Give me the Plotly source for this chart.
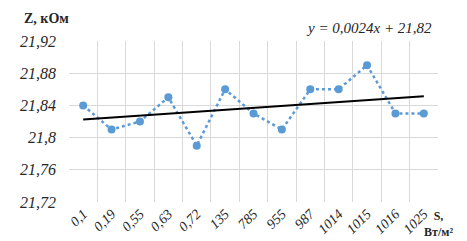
import numpy as np
import plotly.graph_objects as go

categories = ["0,1", "0,19", "0,55", "0,63", "0,72", "135", "785", "955", "987", "1014", "1015", "1016", "1025"]
z_values = [21.84, 21.81, 21.82, 21.85, 21.79, 21.86, 21.83, 21.81, 21.86, 21.86, 21.89, 21.83, 21.83]
y_ticks = [21.72, 21.76, 21.80, 21.84, 21.88, 21.92]
y_tick_labels = ["21,72", "21,76", "21,8", "21,84", "21,88", "21,92"]

idx = np.arange(1, len(z_values) + 1)
slope, intercept = np.polyfit(idx, z_values, 1)
trend = slope * idx + intercept

FAM = "Liberation Serif, Times New Roman, serif"

fig = go.Figure()
fig.add_trace(go.Scatter(
    x=categories, y=z_values, mode="lines+markers",
    line=dict(color="#5B9BD5", width=2.5, dash="dot"),
    marker=dict(color="#5B9BD5", size=8),
    showlegend=False,
))
fig.add_trace(go.Scatter(
    x=categories, y=trend, mode="lines",
    line=dict(color="#000000", width=2),
    showlegend=False,
))

fig.update_layout(
    width=467, height=241,
    margin=dict(l=52, r=37, t=33, b=43),
    paper_bgcolor="white", plot_bgcolor="white",
    font=dict(family=FAM, color="#262626"),
    xaxis=dict(
        type="category", tickson="boundaries", showgrid=True,
        gridcolor="#D9D9D9", gridwidth=1, tickangle=-45,
        tickvals=categories, ticktext=[f"<i>{c}</i>" for c in categories],
        tickfont=dict(family=FAM, size=14, color="#262626"),
        ticks="", showline=False, zeroline=False,
        range=[-0.5, 12.5],
    ),
    yaxis=dict(
        range=[21.72, 21.92], tickvals=y_ticks,
        ticktext=[f"<i>{t}</i>" for t in y_tick_labels],
        showgrid=True, gridcolor="#D9D9D9", gridwidth=1,
        tickfont=dict(family=FAM, size=16, color="#262626"),
        ticks="", showline=False, zeroline=False, ticklabelstandoff=12,
    ),
    annotations=[
        dict(text="<b>Z, кОм</b>", xref="paper", yref="paper", x=-0.127, y=1.14,
             xanchor="left", yanchor="middle", showarrow=False,
             font=dict(family=FAM, size=14, color="#262626")),
        dict(text="<i>y = 0,0024x + 21,82</i>", xref="paper", yref="paper", x=0.99, y=1.08,
             xanchor="right", yanchor="middle", showarrow=False,
             font=dict(family=FAM, size=15, color="#262626")),
        dict(text="<b>S,<br>Вт/м²</b>", xref="paper", yref="paper", x=1.045, y=-0.135,
             xanchor="right", yanchor="middle", showarrow=False, align="center",
             font=dict(family=FAM, size=12, color="#262626")),
    ],
)

fig.write_html("out.html")
